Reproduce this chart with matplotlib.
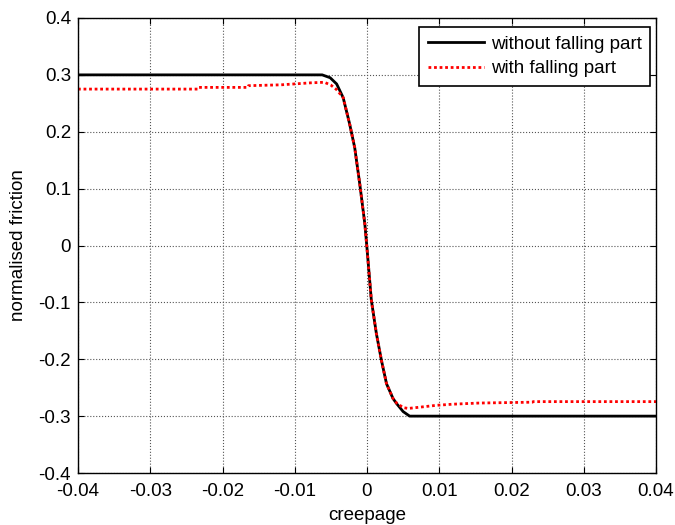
import numpy as np
import matplotlib
matplotlib.use("Agg")
import matplotlib.pyplot as plt

plt.rcParams['font.family'] = ['Liberation Sans', 'DejaVu Sans']

# creepage / normalised friction
x_plain = [-0.04, -0.0062, -0.0051, -0.0042, -0.0033, -0.0024, -0.0017, -0.0010,
           -0.0003, 0.0, 0.0006, 0.0013, 0.0020, 0.0027, 0.0036, 0.0041, 0.0050,
           0.0059, 0.04]
y_plain = [0.300, 0.300, 0.295, 0.284, 0.260, 0.2135, 0.172, 0.108,
           0.038, -0.005, -0.096, -0.155, -0.202, -0.243, -0.269, -0.278, -0.292,
           -0.300, -0.300]

x_fall = [-0.04, -0.0234, -0.0233, -0.0165, -0.0164, -0.0119, -0.0078, -0.0059,
          -0.0050, -0.0042, -0.0033, -0.0024, -0.0017, -0.0010, -0.0003, 0.0,
          0.0006, 0.0013, 0.0020, 0.0027, 0.0036, 0.0041, 0.0050, 0.0057, 0.0075,
          0.0096, 0.0119, 0.0155, 0.0229, 0.0230, 0.04]
y_fall = [0.275, 0.275, 0.278, 0.278, 0.281, 0.2825, 0.286, 0.287,
          0.282, 0.274, 0.260, 0.2135, 0.172, 0.108, 0.038, -0.005,
          -0.096, -0.155, -0.202, -0.243, -0.269, -0.277, -0.285, -0.2865, -0.284,
          -0.281, -0.279, -0.277, -0.2755, -0.2745, -0.2745]

xticks = [-0.04, -0.03, -0.02, -0.01, 0, 0.01, 0.02, 0.03, 0.04]
yticks = [-0.4, -0.3, -0.2, -0.1, 0, 0.1, 0.2, 0.3, 0.4]

fig = plt.figure(figsize=(6.75, 5.25), dpi=100)
ax = fig.add_axes([78 / 675, 1 - 473 / 525, 578 / 675, 455 / 525])

ax.plot(x_plain, y_plain, color='black', lw=2, label='without falling part')
ax.plot(x_fall, y_fall, color='red', lw=2, ls=(0, (1, 1)), label='with falling part')

ax.set_xlim(-0.04, 0.04)
ax.set_ylim(-0.4, 0.4)
ax.set_xticks(xticks)
ax.set_xticklabels(['-0.04', '-0.03', '-0.02', '-0.01', '0', '0.01', '0.02', '0.03', '0.04'])
ax.set_yticks(yticks)
ax.set_yticklabels(['-0.4', '-0.3', '-0.2', '-0.1', '0', '0.1', '0.2', '0.3', '0.4'])
ax.tick_params(direction='in', top=True, right=True, length=4, labelsize=13.5)
ax.tick_params(axis='x', pad=7)
ax.tick_params(axis='y', pad=5)
ax.grid(True, ls=':', color='#555555', lw=0.8)
for s in ax.spines.values():
    s.set_linewidth(1)

ax.set_xlabel('creepage', fontsize=13.5, labelpad=5)
ax.set_ylabel('normalised friction', fontsize=13.5, labelpad=8)

leg = ax.legend(loc='upper right', bbox_to_anchor=(572 / 578, 446 / 455), borderaxespad=0,
                fancybox=False, framealpha=1, edgecolor='black', fontsize=13.5,
                handlelength=3.0, handletextpad=0.35, borderpad=0.45, labelspacing=0.4)
leg.get_frame().set_linewidth(1.2)

fig.savefig('out.png', dpi=100)
